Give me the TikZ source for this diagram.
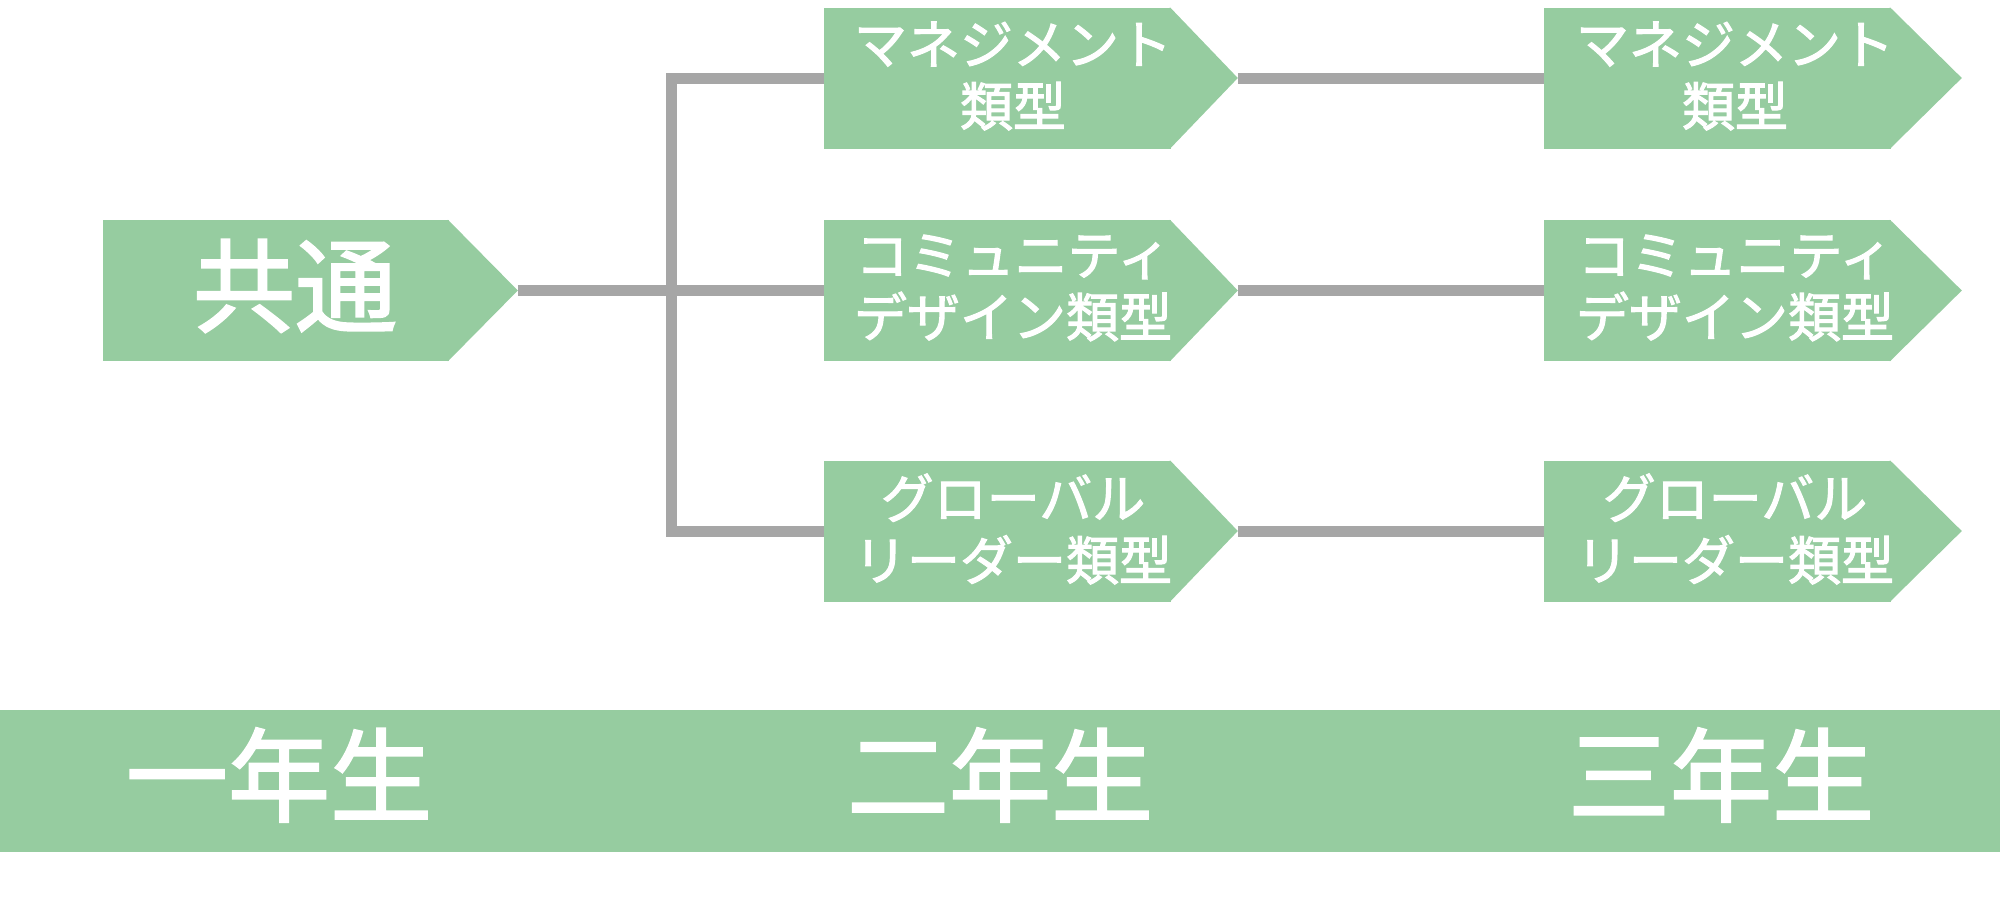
\documentclass[tikz,border=0pt]{standalone}
\usepackage{fontspec}
\setmainfont{Noto Sans CJK JP}
\newfontfamily\jpmed{Noto Sans CJK JP}[FakeBold=2]
\usetikzlibrary{calc}
\definecolor{boxgreen}{HTML}{96CCA0}
\definecolor{linegray}{HTML}{A6A6A6}
\newcommand\tiptri[2]{%
  \coordinate (#1-tip) at ($(#1.east)+(#2,0)$);
  \fill[boxgreen] ($(#1.north east)+(-2,0)$) -- (#1-tip) -- ($(#1.south east)+(-2,0)$) -- cycle;}
\begin{document}
\begin{tikzpicture}[x=0.5pt,y=-0.5pt,
  rectbox/.style={fill=boxgreen, inner sep=0pt, minimum height=70.5pt, minimum width=173.5pt, anchor=west},
  conn/.style={draw=linegray, line width=5.5pt, line join=miter},
  biglbl/.style={text=white, inner sep=0pt, font=\jpmed\fontsize{51pt}{60pt}\selectfont},
  smalllbl/.style={text=white, inner sep=0pt, align=center, font=\jpmed\fontsize{26.5pt}{31pt}\selectfont}]
\useasboundingbox (0,0) rectangle (2000,907);
% first year
\node[rectbox, minimum width=173pt] (c) at (103,290.5) {};
\tiptri{c}{68}
% second year
\node[rectbox] (m1) at (824,78) {};
\tiptri{m1}{66}
\node[rectbox] (m2) at (824,290.5) {};
\tiptri{m2}{66}
\node[rectbox] (m3) at (824,531) {};
\tiptri{m3}{66}
% third year
\node[rectbox] (r1) at (1544,78) {};
\tiptri{r1}{70}
\node[rectbox] (r2) at (1544,290.5) {};
\tiptri{r2}{70}
\node[rectbox] (r3) at (1544,531) {};
\tiptri{r3}{70}
% connectors
\coordinate (trunk) at (671,290.5);
\draw[conn] (c-tip) -- (m2.west);
\draw[conn] (m1.west) -| (trunk) |- (m3.west);
\draw[conn] (m1-tip) -- (r1.west);
\draw[conn] (m2-tip) -- (r2.west);
\draw[conn] (m3-tip) -- (r3.west);
% labels
\node[biglbl] (c-t) at (295,286) {共通};
\node[smalllbl] (m1-t) at (1013,76) {マネジメント\\類型};
\node[smalllbl] (m2-t) at (1013,288) {コミュニティ\\デザイン類型};
\node[smalllbl] (m3-t) at (1013,529) {グローバル\\リーダー類型};
\node[smalllbl] (r1-t) at (1735,76) {マネジメント\\類型};
\node[smalllbl] (r2-t) at (1735,288) {コミュニティ\\デザイン類型};
\node[smalllbl] (r3-t) at (1735,529) {グローバル\\リーダー類型};
% year banner
\node[fill=boxgreen, inner sep=0pt, minimum width=1000pt, minimum height=71pt] (banner) at (1000,781) {};
\node[biglbl] (y1) at (279,775) {一年生};
\node[biglbl] (y2) at (1000,775) {二年生};
\node[biglbl] (y3) at (1721,775) {三年生};
\end{tikzpicture}
\end{document}
